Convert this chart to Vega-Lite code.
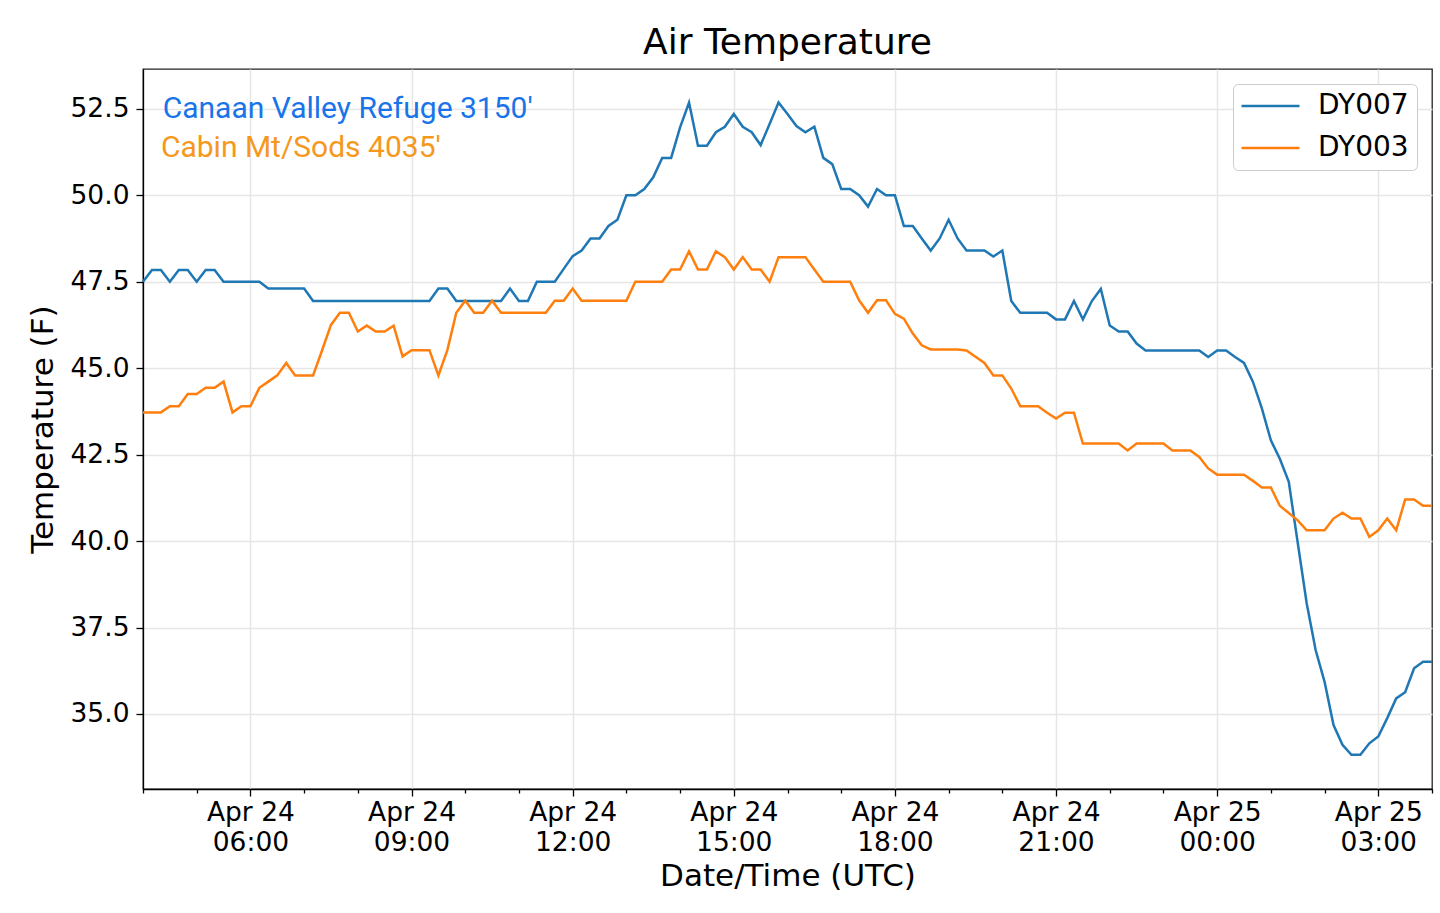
{
  "$schema": "https://vega.github.io/schema/vega-lite/v6.json",
  "description": "Air temperature at two stations, 10-minute readings",
  "autosize": {"type": "none"},
  "width": 1289,
  "height": 720,
  "padding": {"left": 143, "top": 69, "right": 8, "bottom": 124},
  "background": "white",
  "title": {
    "text": "Air Temperature",
    "font": "DejaVu Sans",
    "fontSize": 36,
    "fontWeight": "normal",
    "color": "black",
    "anchor": "middle",
    "offset": 7
  },
  "encoding": {
    "x": {
      "field": "t",
      "type": "temporal",
      "scale": {"type": "utc", "nice": false},
      "axis": {
        "title": "Date/Time (UTC)",
        "tickCount": 24,
        "labelExpr": "utchours(datum.value) % 3 == 0 ? [utcFormat(datum.value, '%b %d'), utcFormat(datum.value, '%H:%M')] : ''",
        "tickSize": {"condition": {"test": "utchours(datum.value) % 3 == 0", "value": 7}, "value": 4},
        "gridOpacity": {"condition": {"test": "utchours(datum.value) % 3 == 0", "value": 1}, "value": 0},
        "labelLineHeight": 30,
        "labelPadding": 3,
        "labelOverlap": false,
        "labelFlush": false,
        "labelBound": false,
        "titlePadding": 6
      }
    },
    "y": {
      "field": "value",
      "type": "quantitative",
      "scale": {"domain": [32.83, 53.65], "nice": false, "zero": false},
      "axis": {
        "title": "Temperature (F)",
        "values": [35, 37.5, 40, 42.5, 45, 47.5, 50, 52.5],
        "format": ".1f",
        "tickSize": 7,
        "labelPadding": 7,
        "titlePadding": 10
      }
    }
  },
  "layer": [
    {
      "data": {
        "values": [
          {"t": "2019-04-24T04:00Z", "DY007": 47.5, "DY003": 43.72},
          {"t": "2019-04-24T04:10Z", "DY007": 47.84, "DY003": 43.72},
          {"t": "2019-04-24T04:20Z", "DY007": 47.84, "DY003": 43.72},
          {"t": "2019-04-24T04:30Z", "DY007": 47.5, "DY003": 43.9},
          {"t": "2019-04-24T04:40Z", "DY007": 47.84, "DY003": 43.9},
          {"t": "2019-04-24T04:50Z", "DY007": 47.84, "DY003": 44.25},
          {"t": "2019-04-24T05:00Z", "DY007": 47.5, "DY003": 44.25},
          {"t": "2019-04-24T05:10Z", "DY007": 47.84, "DY003": 44.43},
          {"t": "2019-04-24T05:20Z", "DY007": 47.84, "DY003": 44.43},
          {"t": "2019-04-24T05:30Z", "DY007": 47.5, "DY003": 44.61},
          {"t": "2019-04-24T05:40Z", "DY007": 47.5, "DY003": 43.72},
          {"t": "2019-04-24T05:50Z", "DY007": 47.5, "DY003": 43.9},
          {"t": "2019-04-24T06:00Z", "DY007": 47.5, "DY003": 43.9},
          {"t": "2019-04-24T06:10Z", "DY007": 47.5, "DY003": 44.43},
          {"t": "2019-04-24T06:20Z", "DY007": 47.3, "DY003": 44.61},
          {"t": "2019-04-24T06:30Z", "DY007": 47.3, "DY003": 44.79},
          {"t": "2019-04-24T06:40Z", "DY007": 47.3, "DY003": 45.15},
          {"t": "2019-04-24T06:50Z", "DY007": 47.3, "DY003": 44.79},
          {"t": "2019-04-24T07:00Z", "DY007": 47.3, "DY003": 44.79},
          {"t": "2019-04-24T07:10Z", "DY007": 46.94, "DY003": 44.79},
          {"t": "2019-04-24T07:20Z", "DY007": 46.94, "DY003": 45.51},
          {"t": "2019-04-24T07:30Z", "DY007": 46.94, "DY003": 46.25},
          {"t": "2019-04-24T07:40Z", "DY007": 46.94, "DY003": 46.6},
          {"t": "2019-04-24T07:50Z", "DY007": 46.94, "DY003": 46.6},
          {"t": "2019-04-24T08:00Z", "DY007": 46.94, "DY003": 46.06},
          {"t": "2019-04-24T08:10Z", "DY007": 46.94, "DY003": 46.23},
          {"t": "2019-04-24T08:20Z", "DY007": 46.94, "DY003": 46.06},
          {"t": "2019-04-24T08:30Z", "DY007": 46.94, "DY003": 46.06},
          {"t": "2019-04-24T08:40Z", "DY007": 46.94, "DY003": 46.23},
          {"t": "2019-04-24T08:50Z", "DY007": 46.94, "DY003": 45.34},
          {"t": "2019-04-24T09:00Z", "DY007": 46.94, "DY003": 45.52},
          {"t": "2019-04-24T09:10Z", "DY007": 46.94, "DY003": 45.52},
          {"t": "2019-04-24T09:20Z", "DY007": 46.94, "DY003": 45.52},
          {"t": "2019-04-24T09:30Z", "DY007": 47.3, "DY003": 44.79},
          {"t": "2019-04-24T09:40Z", "DY007": 47.3, "DY003": 45.52},
          {"t": "2019-04-24T09:50Z", "DY007": 46.94, "DY003": 46.6},
          {"t": "2019-04-24T10:00Z", "DY007": 46.94, "DY003": 46.95},
          {"t": "2019-04-24T10:10Z", "DY007": 46.94, "DY003": 46.6},
          {"t": "2019-04-24T10:20Z", "DY007": 46.94, "DY003": 46.6},
          {"t": "2019-04-24T10:30Z", "DY007": 46.94, "DY003": 46.95},
          {"t": "2019-04-24T10:40Z", "DY007": 46.94, "DY003": 46.6},
          {"t": "2019-04-24T10:50Z", "DY007": 47.3, "DY003": 46.6},
          {"t": "2019-04-24T11:00Z", "DY007": 46.94, "DY003": 46.6},
          {"t": "2019-04-24T11:10Z", "DY007": 46.94, "DY003": 46.6},
          {"t": "2019-04-24T11:20Z", "DY007": 47.5, "DY003": 46.6},
          {"t": "2019-04-24T11:30Z", "DY007": 47.5, "DY003": 46.6},
          {"t": "2019-04-24T11:40Z", "DY007": 47.5, "DY003": 46.95},
          {"t": "2019-04-24T11:50Z", "DY007": 47.87, "DY003": 46.95},
          {"t": "2019-04-24T12:00Z", "DY007": 48.24, "DY003": 47.3},
          {"t": "2019-04-24T12:10Z", "DY007": 48.4, "DY003": 46.95},
          {"t": "2019-04-24T12:20Z", "DY007": 48.75, "DY003": 46.95},
          {"t": "2019-04-24T12:30Z", "DY007": 48.75, "DY003": 46.95},
          {"t": "2019-04-24T12:40Z", "DY007": 49.11, "DY003": 46.95},
          {"t": "2019-04-24T12:50Z", "DY007": 49.29, "DY003": 46.95},
          {"t": "2019-04-24T13:00Z", "DY007": 50.0, "DY003": 46.95},
          {"t": "2019-04-24T13:10Z", "DY007": 50.0, "DY003": 47.5},
          {"t": "2019-04-24T13:20Z", "DY007": 50.18, "DY003": 47.5},
          {"t": "2019-04-24T13:30Z", "DY007": 50.52, "DY003": 47.5},
          {"t": "2019-04-24T13:40Z", "DY007": 51.08, "DY003": 47.5},
          {"t": "2019-04-24T13:50Z", "DY007": 51.08, "DY003": 47.85},
          {"t": "2019-04-24T14:00Z", "DY007": 51.96, "DY003": 47.85},
          {"t": "2019-04-24T14:10Z", "DY007": 52.68, "DY003": 48.38},
          {"t": "2019-04-24T14:20Z", "DY007": 51.43, "DY003": 47.85},
          {"t": "2019-04-24T14:30Z", "DY007": 51.43, "DY003": 47.85},
          {"t": "2019-04-24T14:40Z", "DY007": 51.82, "DY003": 48.38},
          {"t": "2019-04-24T14:50Z", "DY007": 51.98, "DY003": 48.21},
          {"t": "2019-04-24T15:00Z", "DY007": 52.35, "DY003": 47.85},
          {"t": "2019-04-24T15:10Z", "DY007": 51.98, "DY003": 48.21},
          {"t": "2019-04-24T15:20Z", "DY007": 51.82, "DY003": 47.85},
          {"t": "2019-04-24T15:30Z", "DY007": 51.45, "DY003": 47.85},
          {"t": "2019-04-24T15:40Z", "DY007": 52.06, "DY003": 47.5},
          {"t": "2019-04-24T15:50Z", "DY007": 52.68, "DY003": 48.21},
          {"t": "2019-04-24T16:00Z", "DY007": 52.35, "DY003": 48.21},
          {"t": "2019-04-24T16:10Z", "DY007": 52.0, "DY003": 48.21},
          {"t": "2019-04-24T16:20Z", "DY007": 51.82, "DY003": 48.21},
          {"t": "2019-04-24T16:30Z", "DY007": 51.98, "DY003": 47.85},
          {"t": "2019-04-24T16:40Z", "DY007": 51.08, "DY003": 47.5},
          {"t": "2019-04-24T16:50Z", "DY007": 50.9, "DY003": 47.5},
          {"t": "2019-04-24T17:00Z", "DY007": 50.18, "DY003": 47.5},
          {"t": "2019-04-24T17:10Z", "DY007": 50.18, "DY003": 47.5},
          {"t": "2019-04-24T17:20Z", "DY007": 50.0, "DY003": 46.96},
          {"t": "2019-04-24T17:30Z", "DY007": 49.67, "DY003": 46.6},
          {"t": "2019-04-24T17:40Z", "DY007": 50.18, "DY003": 46.96},
          {"t": "2019-04-24T17:50Z", "DY007": 50.0, "DY003": 46.96},
          {"t": "2019-04-24T18:00Z", "DY007": 50.0, "DY003": 46.57},
          {"t": "2019-04-24T18:10Z", "DY007": 49.11, "DY003": 46.43},
          {"t": "2019-04-24T18:20Z", "DY007": 49.11, "DY003": 46.0},
          {"t": "2019-04-24T18:30Z", "DY007": 48.75, "DY003": 45.66},
          {"t": "2019-04-24T18:40Z", "DY007": 48.4, "DY003": 45.54},
          {"t": "2019-04-24T18:50Z", "DY007": 48.75, "DY003": 45.54},
          {"t": "2019-04-24T19:00Z", "DY007": 49.29, "DY003": 45.54},
          {"t": "2019-04-24T19:10Z", "DY007": 48.75, "DY003": 45.54},
          {"t": "2019-04-24T19:20Z", "DY007": 48.4, "DY003": 45.51},
          {"t": "2019-04-24T19:30Z", "DY007": 48.4, "DY003": 45.33},
          {"t": "2019-04-24T19:40Z", "DY007": 48.4, "DY003": 45.15},
          {"t": "2019-04-24T19:50Z", "DY007": 48.23, "DY003": 44.79},
          {"t": "2019-04-24T20:00Z", "DY007": 48.4, "DY003": 44.79},
          {"t": "2019-04-24T20:10Z", "DY007": 46.94, "DY003": 44.41},
          {"t": "2019-04-24T20:20Z", "DY007": 46.6, "DY003": 43.9},
          {"t": "2019-04-24T20:30Z", "DY007": 46.6, "DY003": 43.9},
          {"t": "2019-04-24T20:40Z", "DY007": 46.6, "DY003": 43.9},
          {"t": "2019-04-24T20:50Z", "DY007": 46.6, "DY003": 43.71},
          {"t": "2019-04-24T21:00Z", "DY007": 46.41, "DY003": 43.54},
          {"t": "2019-04-24T21:10Z", "DY007": 46.41, "DY003": 43.71},
          {"t": "2019-04-24T21:20Z", "DY007": 46.94, "DY003": 43.71},
          {"t": "2019-04-24T21:30Z", "DY007": 46.41, "DY003": 42.82},
          {"t": "2019-04-24T21:40Z", "DY007": 46.94, "DY003": 42.82},
          {"t": "2019-04-24T21:50Z", "DY007": 47.29, "DY003": 42.82},
          {"t": "2019-04-24T22:00Z", "DY007": 46.23, "DY003": 42.82},
          {"t": "2019-04-24T22:10Z", "DY007": 46.06, "DY003": 42.82},
          {"t": "2019-04-24T22:20Z", "DY007": 46.06, "DY003": 42.62},
          {"t": "2019-04-24T22:30Z", "DY007": 45.71, "DY003": 42.82},
          {"t": "2019-04-24T22:40Z", "DY007": 45.51, "DY003": 42.82},
          {"t": "2019-04-24T22:50Z", "DY007": 45.51, "DY003": 42.82},
          {"t": "2019-04-24T23:00Z", "DY007": 45.51, "DY003": 42.82},
          {"t": "2019-04-24T23:10Z", "DY007": 45.51, "DY003": 42.62},
          {"t": "2019-04-24T23:20Z", "DY007": 45.51, "DY003": 42.62},
          {"t": "2019-04-24T23:30Z", "DY007": 45.51, "DY003": 42.62},
          {"t": "2019-04-24T23:40Z", "DY007": 45.51, "DY003": 42.43},
          {"t": "2019-04-24T23:50Z", "DY007": 45.32, "DY003": 42.1},
          {"t": "2019-04-25T00:00Z", "DY007": 45.51, "DY003": 41.92},
          {"t": "2019-04-25T00:10Z", "DY007": 45.51, "DY003": 41.92},
          {"t": "2019-04-25T00:20Z", "DY007": 45.32, "DY003": 41.92},
          {"t": "2019-04-25T00:30Z", "DY007": 45.15, "DY003": 41.92},
          {"t": "2019-04-25T00:40Z", "DY007": 44.6, "DY003": 41.74},
          {"t": "2019-04-25T00:50Z", "DY007": 43.83, "DY003": 41.55},
          {"t": "2019-04-25T01:00Z", "DY007": 42.91, "DY003": 41.55},
          {"t": "2019-04-25T01:10Z", "DY007": 42.38, "DY003": 41.02},
          {"t": "2019-04-25T01:20Z", "DY007": 41.71, "DY003": 40.81},
          {"t": "2019-04-25T01:30Z", "DY007": 39.95, "DY003": 40.6},
          {"t": "2019-04-25T01:40Z", "DY007": 38.2, "DY003": 40.31},
          {"t": "2019-04-25T01:50Z", "DY007": 36.85, "DY003": 40.31},
          {"t": "2019-04-25T02:00Z", "DY007": 35.93, "DY003": 40.31},
          {"t": "2019-04-25T02:10Z", "DY007": 34.68, "DY003": 40.65},
          {"t": "2019-04-25T02:20Z", "DY007": 34.11, "DY003": 40.82},
          {"t": "2019-04-25T02:30Z", "DY007": 33.82, "DY003": 40.65},
          {"t": "2019-04-25T02:40Z", "DY007": 33.82, "DY003": 40.65},
          {"t": "2019-04-25T02:50Z", "DY007": 34.15, "DY003": 40.12},
          {"t": "2019-04-25T03:00Z", "DY007": 34.35, "DY003": 40.31},
          {"t": "2019-04-25T03:10Z", "DY007": 34.88, "DY003": 40.65},
          {"t": "2019-04-25T03:20Z", "DY007": 35.45, "DY003": 40.31},
          {"t": "2019-04-25T03:30Z", "DY007": 35.63, "DY003": 41.2},
          {"t": "2019-04-25T03:40Z", "DY007": 36.32, "DY003": 41.2},
          {"t": "2019-04-25T03:50Z", "DY007": 36.51, "DY003": 41.02},
          {"t": "2019-04-25T04:00Z", "DY007": 36.51, "DY003": 41.02}
        ]
      },
      "transform": [{"fold": ["DY007", "DY003"], "as": ["station", "value"]}],
      "mark": {"type": "line", "strokeWidth": 2.5},
      "encoding": {
        "color": {
          "field": "station",
          "type": "nominal",
          "scale": {"domain": ["DY007", "DY003"], "range": ["#1f77b4", "#ff7f0e"]},
          "legend": {
            "title": null,
            "orient": "top-right",
            "offset": 15,
            "symbolType": "M-2.25,0H7.42",
            "symbolSize": 144,
            "symbolStrokeWidth": 2.5,
            "labelFont": "DejaVu Sans",
            "labelFontSize": 28,
            "labelColor": "black",
            "labelOffset": 49,
            "padding": 8,
            "rowPadding": 14,
            "strokeColor": "#cccccc",
            "fillColor": "white",
            "cornerRadius": 5
          }
        }
      }
    },
    {
      "data": {"values": [{"t": "2019-04-24T04:22Z", "value": 52.22, "label": "Canaan Valley Refuge 3150'"}]},
      "mark": {"type": "text", "align": "left", "baseline": "alphabetic", "font": "Roboto", "fontSize": 30, "fill": "#1874e8"},
      "encoding": {"text": {"field": "label", "type": "nominal"}}
    },
    {
      "data": {"values": [{"t": "2019-04-24T04:20Z", "value": 51.11, "label": "Cabin Mt/Sods 4035'"}]},
      "mark": {"type": "text", "align": "left", "baseline": "alphabetic", "font": "Roboto", "fontSize": 30, "fill": "#f5981c"},
      "encoding": {"text": {"field": "label", "type": "nominal"}}
    }
  ],
  "config": {
    "view": {"stroke": "#222222", "strokeWidth": 1.3},
    "axis": {
      "labelFont": "DejaVu Sans",
      "labelFontSize": 26.5,
      "labelColor": "black",
      "titleFont": "DejaVu Sans",
      "titleFontSize": 31,
      "titleFontWeight": "normal",
      "titleColor": "black",
      "domainColor": "black",
      "domainWidth": 1.3,
      "tickColor": "black",
      "tickWidth": 1.3,
      "gridColor": "#e6e6e6",
      "gridWidth": 1.5
    }
  }
}
